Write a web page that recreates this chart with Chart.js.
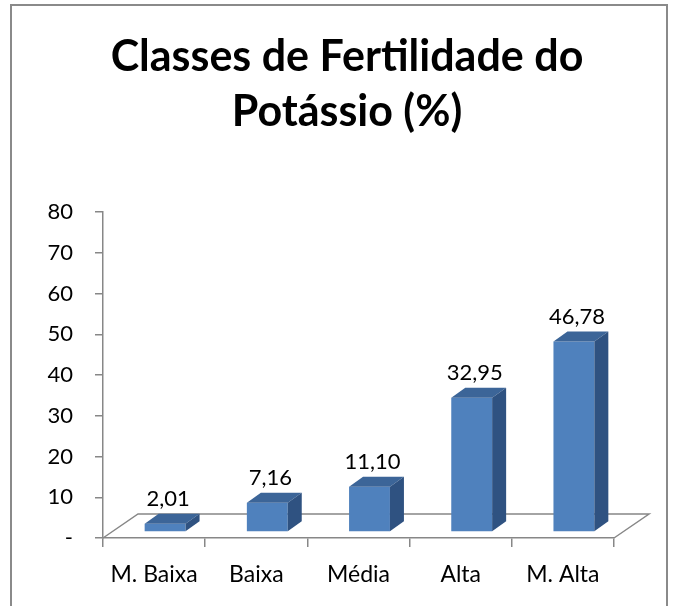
<!DOCTYPE html>
<html>
<head>
<meta charset="utf-8">
<script src="https://cdn.jsdelivr.net/npm/chart.js@4.4.1/dist/chart.umd.min.js"></script>
<style>
  html, body { margin: 0; padding: 0; background: #fff; }
  #wrap { width: 678px; height: 606px; }
</style>
</head>
<body>
<div id="wrap"><canvas id="canvas" width="678" height="606"></canvas></div>
<script>
// data
const categories = ['M. Baixa', 'Baixa', 'Média', 'Alta', 'M. Alta'];
const values = [2.01, 7.16, 11.10, 32.95, 46.78];
const yTicks = [0, 10, 20, 30, 40, 50, 60, 70, 80];
const titleLines = ['Classes de Fertilidade do', 'Potássio (%)'];

const FONT = 'Lato, "Open Sans", sans-serif';
const AXIS_GREY = '#878787';
const FRONT = '#4F81BD', TOP = '#3C6598', SIDE = '#2F5281';
const FLOOR_D = { x: 35, y: -24 };   // depth of the floor
const BAR_OFF = { x: 11, y: -6 };    // bar sits a bit back on the floor
const BAR_D = { x: 14, y: -10 };     // depth of each bar

function fmt(v) { return v.toFixed(2).replace('.', ','); }

const bar3d = {
  id: 'bar3d',
  beforeDraw(chart) {
    const ctx = chart.ctx;
    ctx.save();
    ctx.strokeStyle = '#8a8a8a';
    ctx.lineWidth = 2;
    ctx.strokeRect(11, 5, 656, 640);
    ctx.restore();
  },
  beforeDatasetsDraw(chart) {
    const { ctx, chartArea: a } = chart;
    ctx.save();
    ctx.strokeStyle = AXIS_GREY;
    ctx.lineWidth = 1.5;
    ctx.beginPath();
    ctx.moveTo(a.left, a.bottom);
    ctx.lineTo(a.left + FLOOR_D.x, a.bottom + FLOOR_D.y);
    ctx.lineTo(a.right + FLOOR_D.x, a.bottom + FLOOR_D.y);
    ctx.lineTo(a.right, a.bottom);
    ctx.stroke();
    ctx.restore();
  },
  beforeDatasetDraw(chart) {
    chart.ctx.save();
    chart.ctx.translate(BAR_OFF.x, BAR_OFF.y);
  },
  afterDatasetDraw(chart, args) {
    const ctx = chart.ctx;
    const meta = args.meta;
    meta.data.forEach((el, i) => {
      const p = el.getProps(['x', 'y', 'base', 'width'], true);
      const l = p.x - p.width / 2, r = p.x + p.width / 2;
      // top face
      ctx.fillStyle = TOP;
      ctx.beginPath();
      ctx.moveTo(l, p.y);
      ctx.lineTo(l + BAR_D.x, p.y + BAR_D.y);
      ctx.lineTo(r + BAR_D.x, p.y + BAR_D.y);
      ctx.lineTo(r, p.y);
      ctx.closePath();
      ctx.fill();
      // side face
      ctx.fillStyle = SIDE;
      ctx.beginPath();
      ctx.moveTo(r, p.y);
      ctx.lineTo(r + BAR_D.x, p.y + BAR_D.y);
      ctx.lineTo(r + BAR_D.x, p.base + BAR_D.y);
      ctx.lineTo(r, p.base);
      ctx.closePath();
      ctx.fill();
      // value label
      ctx.fillStyle = '#000';
      ctx.font = '22px ' + FONT;
      ctx.textAlign = 'center';
      ctx.textBaseline = 'middle';
      ctx.fillText(fmt(values[i]), p.x + 3, p.y - 25);
    });
    ctx.restore();
  }
};

new Chart(document.getElementById('canvas'), {
  type: 'bar',
  data: {
    labels: categories,
    datasets: [{
      data: values,
      backgroundColor: FRONT,
      borderWidth: 0,
      categoryPercentage: 1,
      barPercentage: 0.4
    }]
  },
  options: {
    responsive: false,
    animation: false,
    layout: { padding: { left: 16, right: 0, top: 0, bottom: 0 } },
    plugins: {
      legend: { display: false },
      tooltip: { enabled: false },
      title: {
        display: true,
        text: titleLines,
        color: '#000',
        font: { family: FONT, size: 43, weight: 'bold', lineHeight: 1.28 },
        padding: { top: 30, bottom: 72 }
      }
    },
    scales: {
      x: {
        grid: { drawOnChartArea: false, tickLength: 9, color: AXIS_GREY, lineWidth: 1.5 },
        border: { color: AXIS_GREY, width: 1.5 },
        ticks: { color: '#000', font: { family: FONT, size: 23 }, padding: 14 },
        afterFit(s) { s.height = 68; }
      },
      y: {
        min: 0, max: 80,
        grid: { drawOnChartArea: false, tickLength: 8, color: AXIS_GREY, lineWidth: 1.5 },
        border: { color: AXIS_GREY, width: 1.5 },
        afterBuildTicks(s) { s.ticks = yTicks.map(v => ({ value: v })); },
        ticks: {
          color: '#000',
          font: { family: FONT, size: 22 },
          padding: 22,
          callback: v => (v === 0 ? '-' : v)
        },
        afterFit(s) { s.width = 87; }
      },
      y2: {
        position: 'right',
        display: true,
        grid: { display: false },
        border: { display: false },
        ticks: { display: false },
        afterFit(s) { s.width = 64; }
      }
    }
  },
  plugins: [bar3d]
});
</script>
</body>
</html>
